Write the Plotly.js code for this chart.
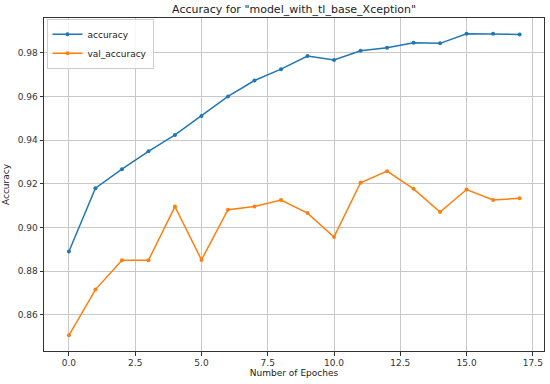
<!DOCTYPE html>
<html><head><meta charset="utf-8">
<script src="https://cdn.plot.ly/plotly-3.0.1.min.js"></script>
<style>html,body{margin:0;padding:0;background:#fff}#c{width:550px;height:384px}</style>
</head><body><div id="c"></div>
<script>
const epochs = [0,1,2,3,4,5,6,7,8,9,10,11,12,13,14,15,16,17];
const accuracy = [0.889,0.918,0.9267,0.9349,0.9424,0.9511,0.9600,0.9673,0.9725,0.9785,0.9767,0.9809,0.9823,0.9846,0.9843,0.9887,0.9887,0.9884];
const valAccuracy = [0.8507,0.8716,0.8850,0.8850,0.9096,0.8852,0.9082,0.9096,0.9126,0.9066,0.8957,0.9205,0.9258,0.9177,0.9071,0.9174,0.9126,0.9134];
const xTicks = [0,2.5,5,7.5,10,12.5,15,17.5];
const xTickText = ['0.0','2.5','5.0','7.5','10.0','12.5','15.0','17.5'];
const yTicks = [0.86,0.88,0.90,0.92,0.94,0.96,0.98];
const yTickText = ['0.86','0.88','0.90','0.92','0.94','0.96','0.98'];

const font = 'DejaVu Sans, sans-serif';
const traces = [
  {x: epochs, y: accuracy, name: 'accuracy', mode: 'lines+markers',
   line: {color: '#1f77b4', width: 1.5}, marker: {color: '#1f77b4', size: 4}},
  {x: epochs, y: valAccuracy, name: 'val_accuracy', mode: 'lines+markers',
   line: {color: '#ff7f0e', width: 1.5}, marker: {color: '#ff7f0e', size: 4}}
];
const axisCommon = {
  showgrid: true, gridcolor: '#c8c8c8', gridwidth: 1,
  showline: true, linecolor: '#333', linewidth: 1, mirror: true,
  ticks: 'outside', ticklen: 3.5, tickcolor: '#333',
  zeroline: false, tickfont: {family: font, size: 9, color: '#333'}
};
const layout = {
  width: 550, height: 384,
  margin: {l: 44, r: 6, t: 18, b: 33},
  paper_bgcolor: '#fff', plot_bgcolor: '#fff',
  title: {text: 'Accuracy for "model_with_tl_base_Xception"', font: {family: font, size: 11, color: '#222'},
          x: 0.5347, xanchor: 'center', y: 0.985, yanchor: 'top'},
  xaxis: Object.assign({}, axisCommon, {range: [-0.94, 17.92], tickvals: xTicks, ticktext: xTickText,
          title: {text: 'Number of Epoches', font: {family: font, size: 9, color: '#222'}, standoff: 2}}),
  yaxis: Object.assign({}, axisCommon, {range: [0.8435, 0.9959], tickvals: yTicks, ticktext: yTickText,
          title: {text: 'Accuracy', font: {family: font, size: 9, color: '#222'}, standoff: 6}}),
  showlegend: true,
  legend: {x: 0.005, y: 0.998, xanchor: 'left', yanchor: 'top', bgcolor: 'rgba(255,255,255,0.85)',
           bordercolor: '#ccc', borderwidth: 1, font: {family: font, size: 9, color: '#222'},
           tracegroupgap: 0, itemwidth: 30}
};
Plotly.newPlot('c', traces, layout, {staticPlot: true, displayModeBar: false});
</script></body></html>
